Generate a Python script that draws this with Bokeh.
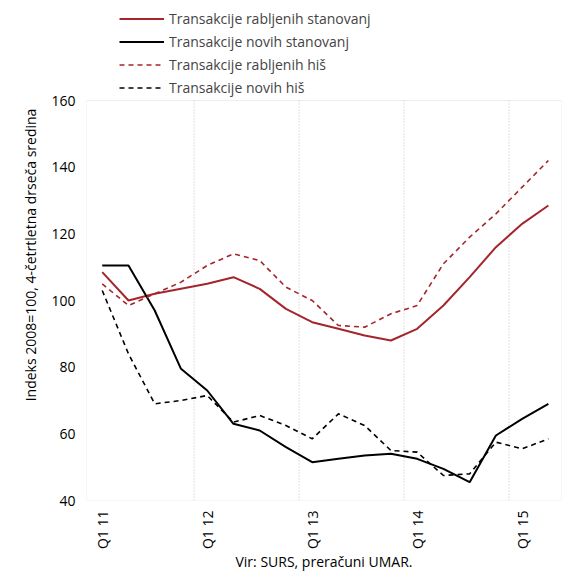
from bokeh.plotting import figure
from bokeh.models import Legend, FixedTicker, BoxAnnotation
from bokeh.embed import file_html
from bokeh.resources import INLINE
import math

quarters = list(range(18))
tick_labels = {0: "Q1 11", 4: "Q1 12", 8: "Q1 13", 12: "Q1 14", 16: "Q1 15"}
year_breaks = [3.5, 7.5, 11.5, 15.5]
rab_stan = [108.5, 100, 102, 103.5, 105, 107, 103.5, 97.5, 93.5, 91.5, 89.5, 88, 91.5, 98.5, 107, 116, 123, 128.5]
nov_stan = [110.5, 110.5, 97, 79.5, 73, 63, 61, 56, 51.5, 52.5, 53.5, 54, 52.5, 49.5, 45.5, 59.5, 64.5, 69]
rab_his = [105, 98.5, 102, 105.5, 110.5, 114, 112, 104, 100, 92.5, 92, 96, 98.5, 111, 119, 126, 134, 142]
nov_his = [103, 84, 69, 70, 71.5, 63.5, 65.5, 62.5, 58.5, 66, 62.5, 55, 54.5, 47.5, 48, 57.5, 55.5, 58.5]

FONT = "Open Sans"
RED = "#a4262c"
Y_MIN, Y_MAX = 40, 160

p = figure(frame_width=475, frame_height=491, x_range=(-0.6, 17.5), y_range=(Y_MIN, 187.3),
           output_backend="svg", toolbar_location=None,
           min_border_left=86, min_border_right=4, min_border_top=9, min_border_bottom=2,
           background_fill_color="white", border_fill_color="white")
p.outline_line_color = None

# plot-area box up to 160, legend sits above it
p.add_layout(BoxAnnotation(bottom=Y_MIN, top=Y_MAX, fill_alpha=0, line_color="#c8c8c8", line_width=1))
p.segment(x0=year_breaks, x1=year_breaks, y0=[Y_MIN] * 4, y1=[Y_MAX] * 4,
          line_color="#c0c0c0", line_dash="1 2")

r1 = p.line(quarters, rab_stan, line_color=RED, line_width=2)
r2 = p.line(quarters, nov_stan, line_color="black", line_width=2)
r3 = p.line(quarters, rab_his, line_color=RED, line_width=1.6, line_dash="5 4")
r4 = p.line(quarters, nov_his, line_color="black", line_width=1.6, line_dash="5 4")

legend = Legend(items=[("Transakcije rabljenih stanovanj", [r1]),
                       ("Transakcije novih stanovanj", [r2]),
                       ("Transakcije rabljenih hiš", [r3]),
                       ("Transakcije novih hiš", [r4])],
                orientation="vertical", location=(33, 403),
                border_line_color=None, background_fill_alpha=0, spacing=4, padding=0,
                glyph_width=45, label_text_font=FONT, label_text_font_size="14px",
                label_height=19, glyph_height=19, margin=0)
p.add_layout(legend)

p.xaxis.ticker = FixedTicker(ticks=list(tick_labels.keys()))
p.xaxis.major_label_overrides = tick_labels
p.xaxis.major_label_orientation = math.pi / 2
p.xaxis.axis_label = "Vir: SURS, preračuni UMAR."
p.yaxis.ticker = FixedTicker(ticks=[40, 60, 80, 100, 120, 140, 160])
p.yaxis.axis_label = "Indeks 2008=100, 4-četrtletna drseča sredina"
for ax in (p.xaxis, p.yaxis):
    ax.axis_line_color = None
    ax.major_tick_line_color = None
    ax.minor_tick_line_color = None
    ax.major_label_text_font = FONT
    ax.major_label_text_font_size = "14px"
    ax.major_label_text_color = "black"
    ax.axis_label_text_font = FONT
    ax.axis_label_text_font_size = "14px"
    ax.axis_label_text_font_style = "normal"
    ax.axis_label_text_color = "black"
p.xaxis.major_label_standoff = 4
p.xaxis.axis_label_standoff = 0
p.yaxis.axis_label_standoff = 8
p.grid.grid_line_color = None

open("out.html", "w").write(file_html(p, INLINE))
